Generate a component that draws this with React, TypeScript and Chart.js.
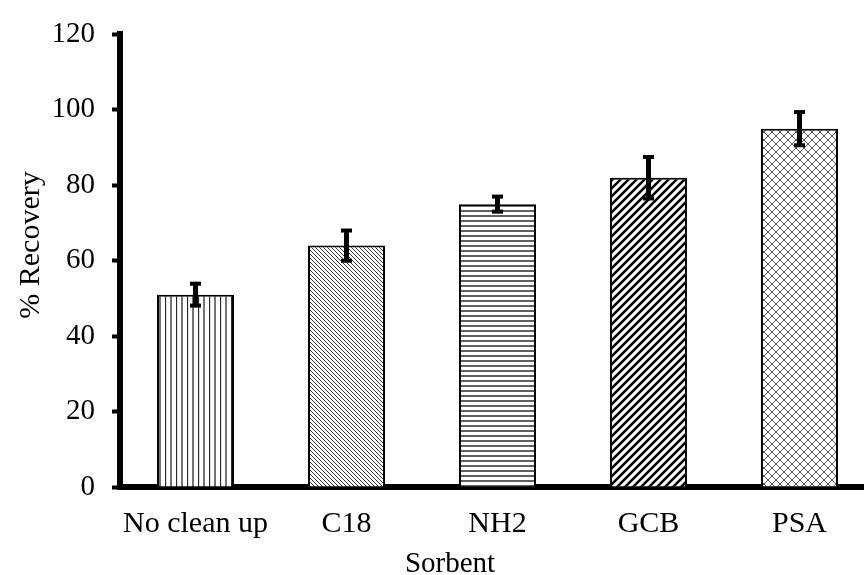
import React, { useEffect, useRef } from 'react';
import { Chart, registerables } from 'chart.js';

Chart.register(...registerables);

const categories: string[] = ['No clean up', 'C18', 'NH2', 'GCB', 'PSA'];
const recovery: number[] = [51, 64, 75, 82, 95];
const recoveryError: number[] = [2.9, 4.0, 2.0, 5.5, 4.4];
const yTickValues: number[] = [0, 20, 40, 60, 80, 100, 120];
const patternKinds: string[] = ['vertical', 'backslash', 'horizontal', 'slashBold', 'cross'];
const xAxisTitle = 'Sorbent';
const yAxisTitle = '% Recovery';

const FONT = "'Liberation Serif', 'Times New Roman', serif";

function makePattern(kind: string): CanvasPattern | string {
  const c = document.createElement('canvas');
  const ctx = c.getContext('2d');
  if (!ctx) return '#fff';
  let w = 8, h = 8;
  if (kind === 'vertical') { w = 11; h = 4; }
  if (kind === 'horizontal') { w = 4; h = 5; }
  if (kind === 'backslash') { w = 4; h = 4; }
  c.width = w; c.height = h;
  ctx.fillStyle = '#fff';
  ctx.fillRect(0, 0, w, h);
  ctx.lineCap = 'square';
  const draw = (segs: number[][]) => segs.forEach(([a, b, cc, d]) => {
    ctx.beginPath(); ctx.moveTo(a, b); ctx.lineTo(cc, d); ctx.stroke();
  });
  if (kind === 'vertical') {
    ctx.strokeStyle = '#2a2a2a';
    ctx.lineWidth = 1.3;
    draw([[0.5, -1, 0.5, h + 1], [6, -1, 6, h + 1]]);
  } else if (kind === 'horizontal') {
    ctx.strokeStyle = '#2a2a2a';
    ctx.lineWidth = 1.5;
    draw([[-1, 1, w + 1, 1]]);
  } else if (kind === 'backslash') {
    ctx.strokeStyle = '#333';
    ctx.lineWidth = 1;
    draw([[-1, -1, w + 1, h + 1], [-1, h - 1, 1, h + 1], [w - 1, -1, w + 1, 1]]);
  } else if (kind === 'slashBold') {
    ctx.strokeStyle = '#000';
    ctx.lineWidth = 2.6;
    draw([[-1, h + 1, w + 1, -1], [-1, 1, 1, -1], [w - 1, h + 1, w + 1, h - 1]]);
  } else if (kind === 'cross') {
    ctx.strokeStyle = '#555';
    ctx.lineWidth = 1;
    draw([
      [-1, h + 1, w + 1, -1], [-1, 1, 1, -1], [w - 1, h + 1, w + 1, h - 1],
      [-1, -1, w + 1, h + 1], [-1, h - 1, 1, h + 1], [w - 1, -1, w + 1, 1],
    ]);
  }
  const p = ctx.createPattern(c, 'repeat');
  return p || '#fff';
}

const errorBarPlugin = {
  id: 'errorBars',
  afterDatasetsDraw(chart: any) {
    const ctx = chart.ctx as CanvasRenderingContext2D;
    const meta = chart.getDatasetMeta(0);
    const yScale = chart.scales.y;
    ctx.save();
    ctx.strokeStyle = '#000';
    ctx.lineCap = 'butt';
    meta.data.forEach((bar: any, i: number) => {
      const v = recovery[i];
      const e = recoveryError[i];
      const x = bar.x;
      const yTop = yScale.getPixelForValue(v + e);
      const yBot = yScale.getPixelForValue(v - e);
      ctx.lineWidth = 5;
      ctx.beginPath(); ctx.moveTo(x, yTop); ctx.lineTo(x, yBot); ctx.stroke();
      ctx.lineWidth = 4;
      const hw = 5.5;
      ctx.beginPath(); ctx.moveTo(x - hw, yTop); ctx.lineTo(x + hw, yTop); ctx.stroke();
      ctx.beginPath(); ctx.moveTo(x - hw, yBot); ctx.lineTo(x + hw, yBot); ctx.stroke();
    });
    ctx.restore();
  },
};

const axisTitlePlugin = {
  id: 'axisTitles',
  afterDraw(chart: any) {
    const ctx = chart.ctx as CanvasRenderingContext2D;
    ctx.save();
    ctx.fillStyle = '#000';
    ctx.font = `29px ${FONT}`;
    ctx.textAlign = 'center';
    ctx.textBaseline = 'alphabetic';
    ctx.fillText(xAxisTitle, 450, 572);
    ctx.translate(31, 245);
    ctx.rotate(-Math.PI / 2);
    ctx.font = `30px ${FONT}`;
    ctx.textBaseline = 'middle';
    ctx.fillText(yAxisTitle, 0, 0);
    ctx.restore();
  },
};

export default function App() {
  const ref = useRef<HTMLCanvasElement | null>(null);

  useEffect(() => {
    if (!ref.current) return;
    const fills = patternKinds.map((k) => makePattern(k));
    const chart = new Chart(ref.current, {
      type: 'bar',
      data: {
        labels: categories,
        datasets: [
          {
            data: recovery,
            backgroundColor: fills as any,
            borderColor: '#000',
            borderWidth: 2,
            barPercentage: 0.51,
            categoryPercentage: 1,
          },
        ],
      },
      options: {
        responsive: false,
        animation: false,
        devicePixelRatio: 1,
        layout: { padding: { top: 28, right: 5, left: 0, bottom: 0 } },
        plugins: {
          legend: { display: false },
          tooltip: { enabled: false },
        },
        scales: {
          x: {
            offset: true,
            grid: { display: false, drawTicks: false },
            border: { display: true, color: '#000', width: 6 },
            ticks: {
              color: '#000',
              padding: 19,
              font: { family: FONT, size: 30 },
              maxRotation: 0,
              autoSkip: false,
            },
            afterFit: (s: any) => { s.height = 92; },
          },
          y: {
            min: 0,
            max: 120,
            afterBuildTicks: (s: any) => { s.ticks = yTickValues.map((v) => ({ value: v })); },
            grid: {
              drawOnChartArea: false,
              drawTicks: true,
              tickLength: 8,
              tickWidth: 4,
              tickColor: '#000',
            },
            border: { display: true, color: '#000', width: 6 },
            ticks: {
              color: '#000',
              padding: 17,
              font: { family: FONT, size: 29 },
            },
            afterFit: (s: any) => { s.width = 120; },
          },
        },
      },
      plugins: [errorBarPlugin, axisTitlePlugin],
    });
    return () => chart.destroy();
  }, []);

  return (
    <div style={{ position: 'fixed', left: 0, top: 0, width: 864, height: 575, overflow: 'hidden', background: '#fff' }}>
      <canvas ref={ref} width={880} height={579} style={{ display: 'block' }} />
    </div>
  );
}
